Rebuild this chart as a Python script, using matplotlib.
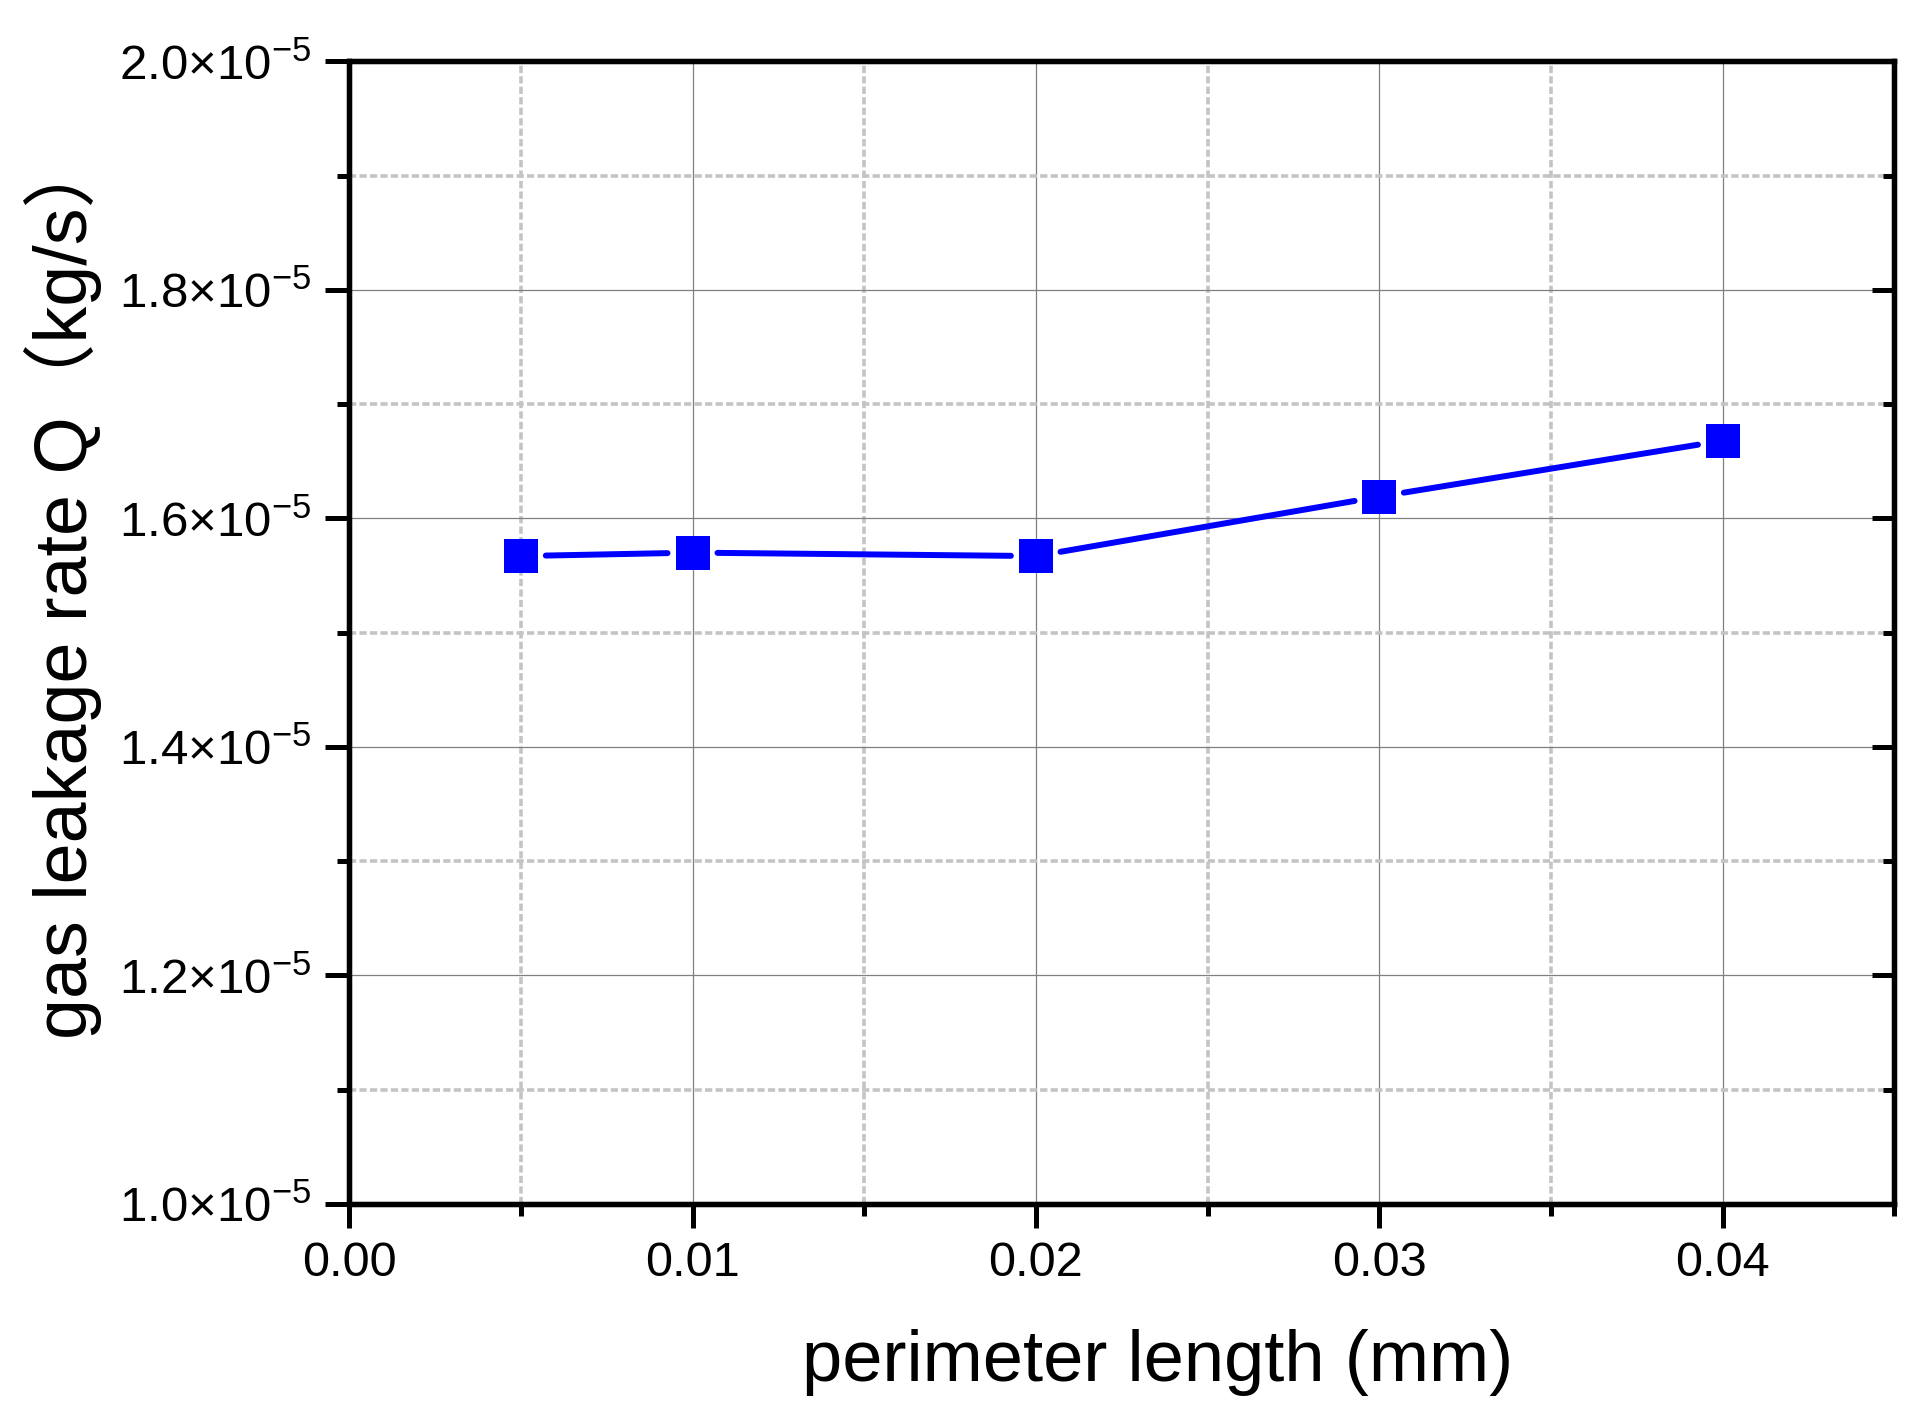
import matplotlib

matplotlib.use("Agg")
import matplotlib.pyplot as plt
from matplotlib.ticker import FormatStrFormatter, FuncFormatter, MultipleLocator

plt.rcParams["font.family"] = ["Liberation Sans", "Noto Sans CJK SC", "DejaVu Sans"]
plt.rcParams["mathtext.fontset"] = "custom"
plt.rcParams["mathtext.rm"] = "Liberation Sans"
plt.rcParams["mathtext.it"] = "Liberation Sans:italic"

# data
perimeter = [0.005, 0.01, 0.02, 0.03, 0.04]
leak_rate = [1.567e-5, 1.570e-5, 1.567e-5, 1.619e-5, 1.668e-5]

x_label = "perimeter length (mm)"
y_label = "gas leakage rate Q（kg/s）"

BLUE = "#0000FF"


def sci_fmt(v, _pos):
    return r"$\mathregular{%.1f{\times}10^{-5}}$" % (v / 1e-5)


fig = plt.figure(figsize=(19.29, 14.28), dpi=100, facecolor="white")
ax = fig.add_axes([0.181, 0.157, 0.801, 0.800])

ax.set_xlim(0, 0.045)
ax.set_ylim(1.0e-5, 2.0e-5)

# grid: solid on majors, short dashes on minors
ax.xaxis.set_major_locator(MultipleLocator(0.01))
ax.xaxis.set_minor_locator(MultipleLocator(0.005))
ax.yaxis.set_major_locator(MultipleLocator(0.2e-5))
ax.yaxis.set_minor_locator(MultipleLocator(0.1e-5))
ax.grid(which="major", color="#808080", linewidth=0.9, linestyle="-")
ax.grid(which="minor", color="#C4C4C4", linewidth=2.6, linestyle=(0, (2.0, 0.9)))
ax.set_axisbelow(True)

# line segments stop short of the markers
for i in range(len(perimeter) - 1):
    ax.annotate(
        "", xy=(perimeter[i + 1], leak_rate[i + 1]), xytext=(perimeter[i], leak_rate[i]),
        arrowprops=dict(arrowstyle="-", color=BLUE, lw=4.3, shrinkA=18, shrinkB=18,
                        capstyle="round"),
    )
ax.plot(perimeter, leak_rate, linestyle="none", marker="s", markersize=25,
        color=BLUE, markeredgecolor=BLUE, markeredgewidth=0, zorder=5)

ax.xaxis.set_major_formatter(FormatStrFormatter("%.2f"))
ax.yaxis.set_major_formatter(FuncFormatter(sci_fmt))

ax.tick_params(which="major", direction="out", length=17, width=3.6, labelsize=35, pad=10,
               top=False, right=False)
ax.tick_params(which="minor", direction="out", length=8.5, width=3.6, top=False, right=False)
ax.tick_params(axis="y", which="major", labelsize=35.5, pad=10)

for s in ax.spines.values():
    s.set_linewidth(3.8)

# right side ticks point inward
ax_r = ax.twinx()
ax_r.set_ylim(ax.get_ylim())
ax_r.yaxis.set_major_locator(MultipleLocator(0.2e-5))
ax_r.yaxis.set_minor_locator(MultipleLocator(0.1e-5))
ax_r.tick_params(which="major", direction="in", length=16, width=3.6, labelright=False)
ax_r.tick_params(which="minor", direction="in", length=8, width=3.6, labelright=False)
for s in ax_r.spines.values():
    s.set_linewidth(3.8)

ax.set_xlabel(x_label, fontsize=52)
ax.set_ylabel(y_label, fontsize=53)
ax.xaxis.set_label_coords(0.523, -0.110)
ax.yaxis.set_label_coords(-0.160, 0.54)

fig.savefig("out.png", dpi=100, facecolor="white")
